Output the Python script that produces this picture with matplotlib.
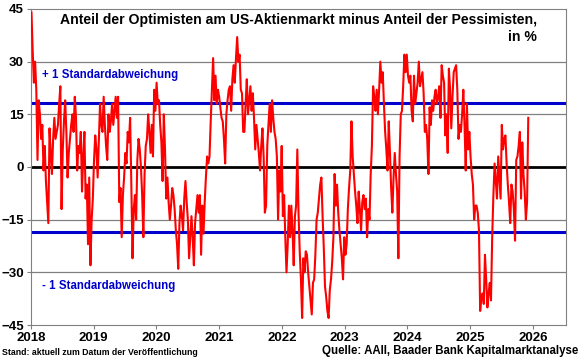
import matplotlib
matplotlib.use("Agg")
import matplotlib.pyplot as plt
import matplotlib.dates as mdates
import pandas as pd

plt.rcParams['font.family'] = ['Liberation Sans', 'DejaVu Sans']

# Bull-bear spread (AAII), weekly, in %
y2018 = [44, 33, 24, 30, 22, 2, 19, 15, 8, 12, -1, 6, -4, -10, -16, 11, 4, -2, 8, 14, 8, 10, 12, 18, 23, -12,
         5, 13, 19, 10, -3, 4, 8, 12, 15, 10, 20, 14, -1, 6, 4, 10, -7, 3, 10, -9, -5, -22, -3, -28, -15, -9]
y2019 = [2, 9, 5, -3, 8, 18, 12, 10, 20, 12, 6, 2, 15, 10, 13, 18, 12, 16, 20, 14, 20, -10, -6, -20, -8, -3,
         4, 1, 10, 7, 14, -5, -26, -12, -8, -15, 2, 8, 5, 0, -8, -20, -2, 6, 8, 15, 10, 4, 12, 3, 22, 16]
y2020 = [24, 18, 19, 12, 7, -4, 15, 5, -9, -3, -10, -15, -11, -6, -8, -12, -18, -22, -29, -16, -11, -14, -18,
         -9, -4, -10, -15, -26, -20, -14, -20, -28, -16, -12, -8, -13, -8, -25, -11, -19, -10, -3, 3, 1, 3, 13,
         22, 31, 19, 26, 18, 22]
y2021 = [20, 17, 14, 13, 8, 1, 15, 19, 22, 23, 16, 25, 29, 24, 31, 37, 30, 32, 22, 21, 10, 10, 18, 25, 15, 19,
         23, 16, 21, 14, 5, 12, 8, 4, -1, 6, 11, 3, -13, -11, 6, 12, 18, 10, 19, 14, 10, 8, 3, -15, -1, -7]
y2022 = [6, -14, -8, -20, -30, -22, -11, -20, -11, -18, -28, -14, -11, 5, -13, -24, -32, -43, -26, -30, -24,
         -25, -30, -34, -38, -42, -33, -32, -25, -15, -13, -9, -5, -3, -14, -23, -34, -37, -41, -43, -35, -32,
         -27, -20, -2, -11, -5, -13, -18, -22, -26, -32]
y2023 = [-20, -25, -22, -12, -6, -1, 13, 3, -2, -7, -11, -16, -7, -12, -18, -10, -8, -12, -9, -20, -12, -15,
         -2, 6, 23, 20, 16, 22, 15, 22, 30, 24, 27, 18, 10, 5, -1, 13, 4, -6, -13, -3, 4, -2, -7, -26, 3, 15,
         16, 23, 32, 27]
y2024 = [32, 26, 24, 26, 16, 13, 26, 18, 21, 24, 30, 23, 25, 27, 21, 10, 12, 8, -2, 17, 12, 19, 16, 20, 22,
         18, 20, 23, 14, 29, 26, 24, 9, 15, 4, 28, 22, 11, 20, 27, 28, 29, 22, 8, 12, 10, 15, 22, 12, -1, 18, 5]
y2025 = [10, 3, -2, -5, -15, -11, -11, -13, -18, -41, -37, -36, -39, -25, -32, -40, -36, -33, -38, -20, -8, 1,
         -4, -9, 3, -3, -9, 12, 5, 8, 9, 1, -5, -10, -16, -5, -7, -12, -21, 2, 3, 6, 10, -9, 7, -2, -7, -15,
         -10, 14]

spread = y2018 + y2019 + y2020 + y2021 + y2022 + y2023 + y2024 + y2025
dates = pd.date_range("2018-01-04", periods=len(spread), freq="7D")

sd_plus = 18.3
sd_minus = -18.6
years = list(range(2018, 2027))

fig = plt.figure(figsize=(5.8, 3.59), dpi=100)
ax = fig.add_axes([0.0534, 0.0947, 0.9226, 0.8803])

for v in [30, 15, -15, -30]:
    ax.axhline(v, color="#808080", lw=0.9, zorder=1)
ax.axhline(0, color="black", lw=2.0, zorder=2)
ax.axhline(sd_plus, color="#0000CC", lw=2.2, zorder=2)
ax.axhline(sd_minus, color="#0000CC", lw=2.2, zorder=2)

ax.plot(dates, spread, color="#FF0000", lw=1.5, zorder=3)

ax.set_ylim(-45, 45)
ax.set_yticks([45, 30, 15, 0, -15, -30, -45])
ax.set_xlim(pd.Timestamp("2018-01-01"), pd.Timestamp("2026-07-12"))
ax.set_xticks([pd.Timestamp(f"{y}-01-01") for y in years])
ax.xaxis.set_major_formatter(mdates.DateFormatter("%Y"))
ax.tick_params(axis="both", labelsize=9.5, length=3, color="#808080", pad=2)
for lab in ax.get_xticklabels() + ax.get_yticklabels():
    lab.set_fontweight("bold")
for s in ax.spines.values():
    s.set_color("#808080")

ax.text(0.946, 0.986, "Anteil der Optimisten am US-Aktienmarkt minus Anteil der Pessimisten,\nin %",
        transform=ax.transAxes, ha="right", va="top", fontsize=10.1, fontweight="bold",
        linespacing=1.2, zorder=4)
ax.text(0.02, 0.79, "+ 1 Standardabweichung", transform=ax.transAxes, color="#0000CC",
        fontsize=8.3, fontweight="bold", va="center")
ax.text(0.02, 0.123, "- 1 Standardabweichung", transform=ax.transAxes, color="#0000CC",
        fontsize=8.3, fontweight="bold", va="center")

fig.text(0.003, 0.006, "Stand: aktuell zum Datum der Veröffentlichung", fontsize=6.3,
         fontweight="bold", va="bottom")
fig.text(0.997, 0.006, "Quelle: AAII, Baader Bank Kapitalmarktanalyse", fontsize=8.3,
         fontweight="bold", ha="right", va="bottom")

fig.savefig("out.png", dpi=100)
